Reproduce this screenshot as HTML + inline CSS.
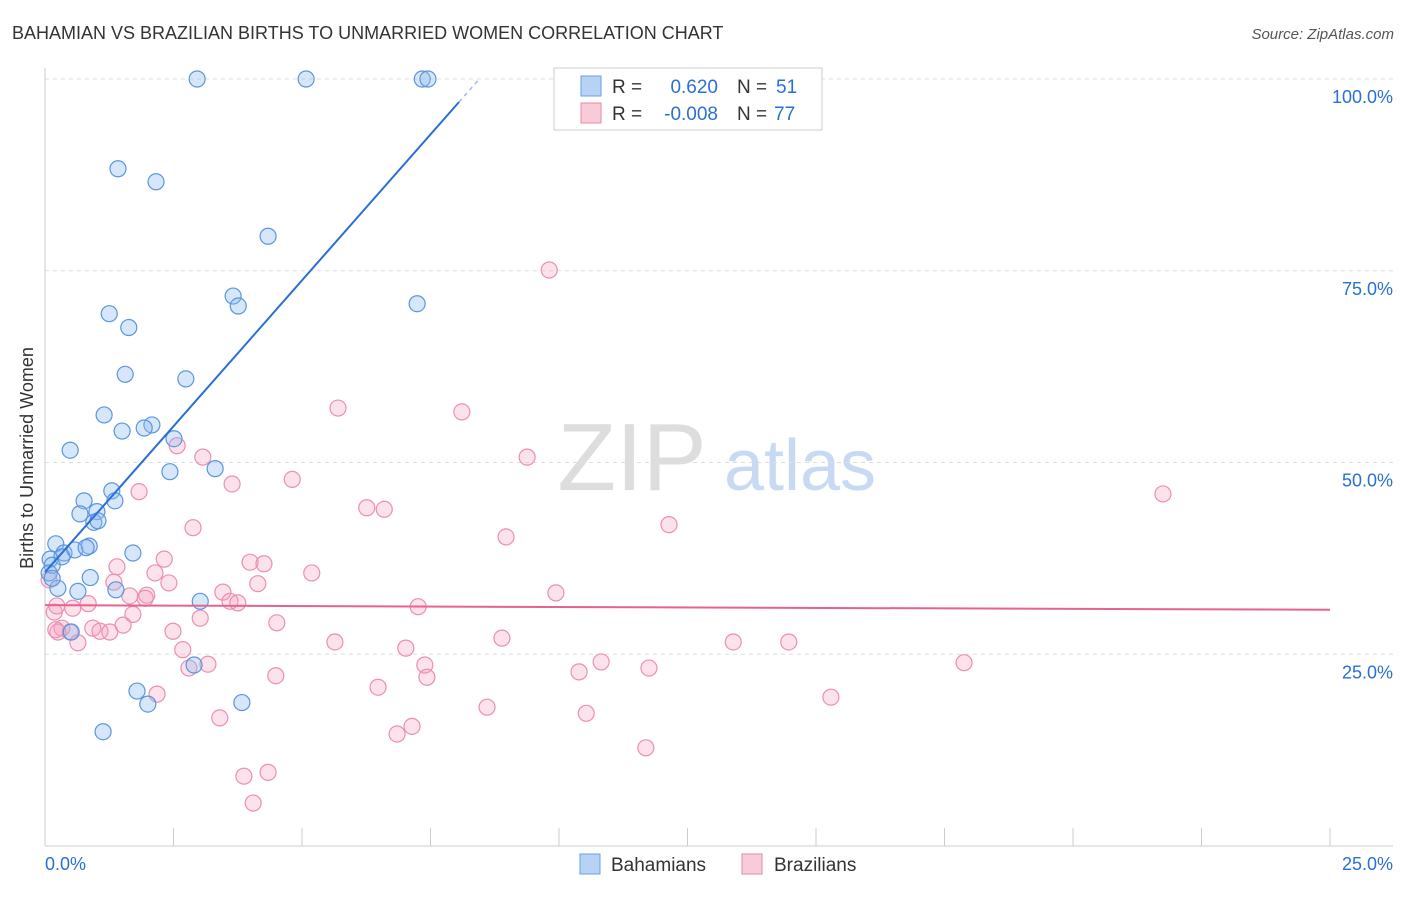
<!DOCTYPE html>
<html><head><meta charset="utf-8"><style>
body{margin:0;background:#fff;font-family:"Liberation Sans",sans-serif;}
svg text{font-family:"Liberation Sans",sans-serif;}
</style></head><body>
<svg id="c" width="1406" height="892" xmlns="http://www.w3.org/2000/svg">
<text x="12" y="39" font-size="18" fill="#333">BAHAMIAN VS BRAZILIAN BIRTHS TO UNMARRIED WOMEN CORRELATION CHART</text>
<text x="1394" y="39" font-size="15" fill="#555" font-style="italic" text-anchor="end">Source: ZipAtlas.com</text>
<text x="33" y="458" font-size="18" fill="#333" text-anchor="middle" transform="rotate(-90 33 458)">Births to Unmarried Women</text>
<g><text x="632" y="490" font-size="96" fill="#ddd" font-family="Liberation Serif,serif" text-anchor="middle">ZIP</text><text x="800" y="490" font-size="72" fill="#c8daf3" text-anchor="middle">atlas</text></g>
<g id="grid"></g><g id="pts"></g><g id="lines"></g>
<g>
<rect x="554" y="68" width="268" height="62" fill="#fff" stroke="#ccc"/>
<rect x="581" y="76" width="20" height="20" fill="#b7d2f5" stroke="#6a9fe0"/>
<rect x="581" y="103" width="20" height="20" fill="#f9cad8" stroke="#e88aa8"/>
<text x="612" y="93" font-size="19" fill="#333">R =</text>
<text x="718" y="93" font-size="19" fill="#2a6fd6" text-anchor="end">0.620</text>
<text x="737" y="93" font-size="19" fill="#333">N =</text>
<text x="776" y="93" font-size="19" fill="#2a6fd6">51</text>
<text x="612" y="120" font-size="19" fill="#333">R =</text>
<text x="718" y="120" font-size="19" fill="#2a6fd6" text-anchor="end">-0.008</text>
<text x="737" y="120" font-size="19" fill="#333">N =</text>
<text x="774" y="120" font-size="19" fill="#2a6fd6">77</text>
</g>
<g>
<rect x="580" y="854" width="20" height="20" fill="#b7d2f5" stroke="#6a9fe0"/><text x="611" y="871" font-size="19" fill="#333">Bahamians</text>
<rect x="742" y="854" width="20" height="20" fill="#f9cad8" stroke="#e88aa8"/><text x="774" y="871" font-size="19" fill="#333">Brazilians</text>
</g>
<text x="45" y="870" font-size="18" fill="#2a6fd6">0.0%</text>
<text x="1393" y="870" font-size="18" fill="#2a6fd6" text-anchor="end">25.0%</text>
</svg>
<script>
const yTicks=[100,75,50,25];
const xTicks=[0,2.5,5,7.5,10,12.5,15,17.5,20,22.5,25];
const blueX=[2.96,5.08,7.34,7.45,1.42,2.16,4.34,3.66,3.76,7.24,1.25,1.63,1.56,2.74,1.15,2.08,1.50,1.93,0.49,2.51,2.43,3.31,0.76,1.30,1.36,0.68,1.01,0.95,1.03,0.21,0.86,0.37,0.58,0.80,1.71,0.10,0.33,0.14,0.88,0.08,0.25,0.64,1.38,3.02,0.51,2.90,1.79,2.00,3.83,1.13,0.14];
const blueY=[100,100,100,100,88.3,86.6,79.5,71.7,70.4,70.7,69.4,67.6,61.5,60.9,56.2,54.9,54.1,54.5,51.6,53.1,48.8,49.2,45.0,46.3,45.0,43.3,43.6,42.2,42.4,39.4,39.1,38.2,38.6,38.9,38.2,37.4,37.7,36.6,35.0,35.6,33.6,33.2,33.4,31.9,27.9,23.6,20.2,18.5,18.7,14.9,34.9];
const pinkPx=[[549,270],[338,408],[462,412],[1163,494],[527,457],[177,446],[203,457],[232,484],[292,479],[139,492],[367,508],[384,509],[193,528],[669,525],[506,537],[164,559],[250,562],[264,564],[155,573],[117,567],[169,583],[312,573],[114,582],[258,584],[223,592],[556,593],[130,596],[147,595],[145,598],[230,601],[238,603],[88,604],[73,608],[418,607],[200,618],[133,614],[277,623],[123,625],[54,612],[173,631],[62,628],[93,628],[100,631],[70,632],[58,632],[110,632],[78,643],[335,642],[502,638],[733,642],[789,642],[183,650],[406,648],[208,664],[425,665],[189,668],[601,662],[649,668],[964,663],[579,672],[276,676],[427,677],[378,687],[157,694],[831,697],[487,707],[586,713],[220,718],[412,726],[397,734],[646,748],[244,776],[268,772],[253,803],[57,606],[56,630],[49,580]];
const pinkX=pinkPx.map(p=>+((p[0]-45)*25/1285).toFixed(2));
const pinkY=pinkPx.map(p=>+((846-p[1])*100/767).toFixed(1));
const blueFit=[35.7,7.61];
const pinkFit=[31.4,-0.024];
const X=v=>45+v*1285/25, Y=v=>846-v*767/100;
const NS='http://www.w3.org/2000/svg';
function mk(par,tag,at){const e=document.createElementNS(NS,tag);for(const k in at)e.setAttribute(k,at[k]);document.getElementById(par).appendChild(e);return e;}
const l0=mk('grid','line',{x1:45,x2:45,y1:68,y2:846,stroke:'#ccc'});


const l1=mk('grid','line',{x1:45,x2:1393,y1:846,y2:846,stroke:'#ccc'});


yTicks.forEach(t=>{
 const g=mk('grid','line',{x1:45,x2:1393,y1:Y(t),y2:Y(t),stroke:'#ddd','stroke-dasharray':'4,4'});
 
 
 const tx=mk('grid','text',{x:1393,y:Y(t)+24,'font-size':18,fill:'#2a6fd6','text-anchor':'end'});
 tx.textContent=t.toFixed(1)+'%';
 
 
});
xTicks.forEach(t=>{
 const k=mk('grid','line',{x1:X(t),x2:X(t),y1:828,y2:846,stroke:'#ccc'});
 
 
});
pinkX.forEach((v,i)=>{
 const c=mk('pts','circle',{cx:X(v),cy:Y(pinkY[i]),r:8,fill:'rgba(245,160,190,0.3)',stroke:'#ec8fae','stroke-width':1.2});
 
 
});
blueX.forEach((v,i)=>{
 const c=mk('pts','circle',{cx:X(v),cy:Y(blueY[i]),r:8,fill:'rgba(140,185,240,0.35)',stroke:'#5b95dd','stroke-width':1.2});
 
 
});
const xe=(97-blueFit[0])/blueFit[1], xf=(100-blueFit[0])/blueFit[1];
const b=mk('lines','line',{x1:X(0),y1:Y(blueFit[0]),x2:X(xe),y2:Y(97),stroke:'#2a6fd6','stroke-width':2});


const bd=mk('lines','line',{x1:X(xe),y1:Y(97),x2:X(xf),y2:Y(100),stroke:'#9bbbe8','stroke-width':1.5,'stroke-dasharray':'4,4'});


const p=mk('lines','line',{x1:X(0),y1:Y(pinkFit[0]),x2:X(25),y2:Y(pinkFit[0]+25*pinkFit[1]),stroke:'#e8628e','stroke-width':2});


</script>
</body></html>
